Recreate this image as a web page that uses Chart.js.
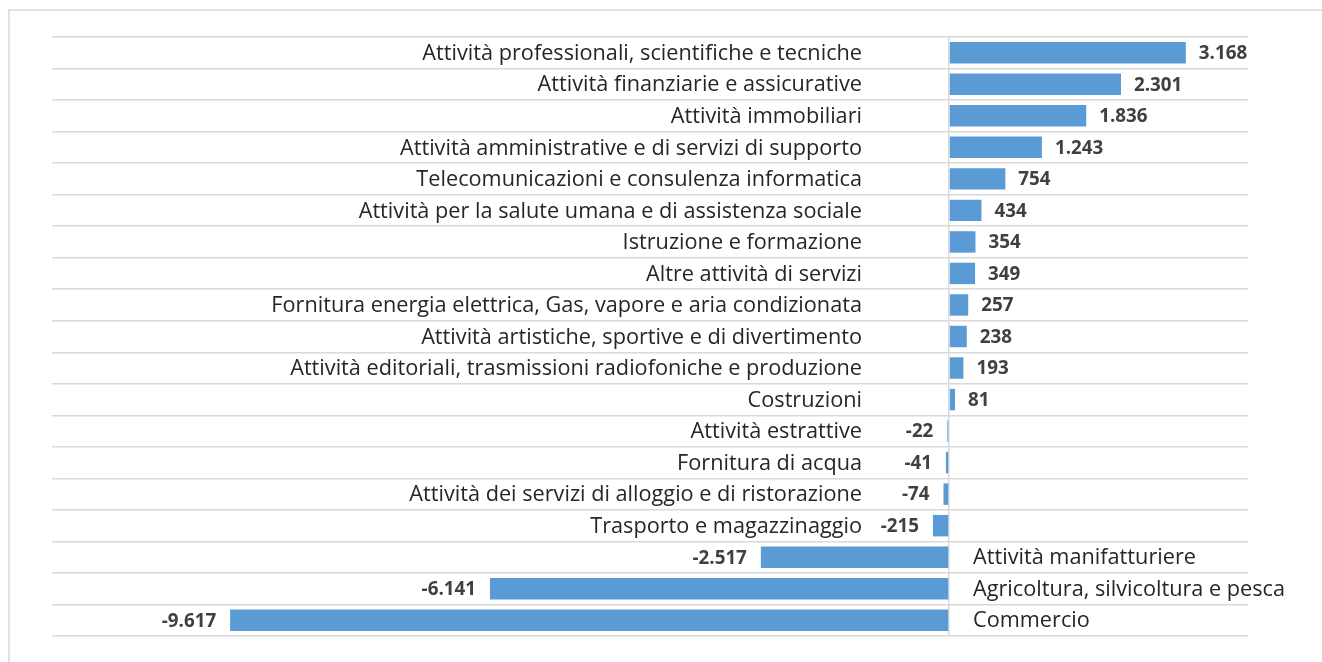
<!DOCTYPE html>
<html>
<head>
<meta charset="utf-8">
<script src="https://cdn.jsdelivr.net/npm/chart.js@4.4.0/dist/chart.umd.min.js"></script>
<style>
html,body{margin:0;padding:0;background:#fff;}
#wrap{position:relative;width:1322px;height:662px;}
</style>
</head>
<body>
<div id="wrap"><canvas id="c" width="1322" height="662"></canvas></div>
<script>
const categories = [
  "Attività professionali, scientifiche e tecniche",
  "Attività finanziarie e assicurative",
  "Attività immobiliari",
  "Attività amministrative e di servizi di supporto",
  "Telecomunicazioni e consulenza informatica",
  "Attività per la salute umana e di assistenza sociale",
  "Istruzione e formazione",
  "Altre attività di servizi",
  "Fornitura energia elettrica, Gas, vapore e aria condizionata",
  "Attività artistiche, sportive e di divertimento",
  "Attività editoriali, trasmissioni radiofoniche e produzione",
  "Costruzioni",
  "Attività estrattive",
  "Fornitura di acqua",
  "Attività dei servizi di alloggio e di ristorazione",
  "Trasporto e magazzinaggio",
  "Attività manifatturiere",
  "Agricoltura, silvicoltura e pesca",
  "Commercio"
];
const values = [3168, 2301, 1836, 1243, 754, 434, 354, 349, 257, 238, 193, 81, -22, -41, -74, -215, -2517, -6141, -9617];
const valueLabels = ["3.168","2.301","1.836","1.243","754","434","354","349","257","238","193","81","-22","-41","-74","-215","-2.517","-6.141","-9.617"];

const CAT_FONT = "21.7px 'Open Sans', sans-serif";
const VAL_FONT = "bold 18.8px 'Open Sans', sans-serif";

const framePlugin = {
  id: 'frame',
  beforeDraw(chart) {
    const ctx = chart.ctx;
    ctx.save();
    ctx.strokeStyle = '#d9d9d9';
    ctx.lineWidth = 1.5;
    ctx.beginPath();
    ctx.moveTo(9, 662);
    ctx.lineTo(9, 10);
    ctx.lineTo(1322, 10);
    ctx.stroke();
    ctx.restore();
  }
};

const labelPlugin = {
  id: 'labels',
  afterDatasetsDraw(chart) {
    const ctx = chart.ctx;
    const xs = chart.scales.x, ys = chart.scales.y;
    const zero = xs.getPixelForValue(0);
    ctx.save();
    ctx.textBaseline = 'middle';
    categories.forEach((c, i) => {
      const y = ys.getPixelForValue(i) + 1;
      const v = values[i];
      const px = xs.getPixelForValue(v);
      ctx.font = CAT_FONT;
      ctx.fillStyle = '#262626';
      if (v < -1000) {
        ctx.textAlign = 'left';
        ctx.fillText(c, zero + 24, y);
      } else {
        ctx.textAlign = 'right';
        ctx.fillText(c, zero - 87, y);
      }
      ctx.font = VAL_FONT;
      ctx.fillStyle = '#404040';
      if (v >= 0) {
        ctx.textAlign = 'left';
        ctx.fillText(valueLabels[i], px + 13, y);
      } else {
        ctx.textAlign = 'right';
        ctx.fillText(valueLabels[i], px - 14, y);
      }
    });
    ctx.restore();
  }
};

new Chart(document.getElementById('c'), {
  type: 'bar',
  data: {
    labels: categories,
    datasets: [{
      data: values,
      backgroundColor: '#5b9bd5',
      borderWidth: 0,
      barPercentage: 0.68,
      categoryPercentage: 1.0
    }]
  },
  options: {
    indexAxis: 'y',
    responsive: false,
    animation: false,
    layout: { padding: { left: 52, right: 74, top: 37, bottom: 26 } },
    plugins: { legend: { display: false }, tooltip: { enabled: false } },
    scales: {
      x: {
        min: -12000, max: 4000,
        ticks: { display: false, stepSize: 2000 },
        grid: {
          drawTicks: false,
          lineWidth: 1.5,
          color: (ctx) => (ctx.tick && ctx.tick.value === 0) ? '#d9d9d9' : 'rgba(0,0,0,0)'
        },
        border: { display: false },
        afterFit(s) { s.height = 0; }
      },
      y: {
        ticks: { display: false },
        grid: { drawTicks: false, color: '#d9d9d9', lineWidth: 1.5, offset: true },
        border: { display: false },
        afterFit(s) { s.width = 0; }
      }
    }
  },
  plugins: [framePlugin, labelPlugin]
});
</script>
</body>
</html>
